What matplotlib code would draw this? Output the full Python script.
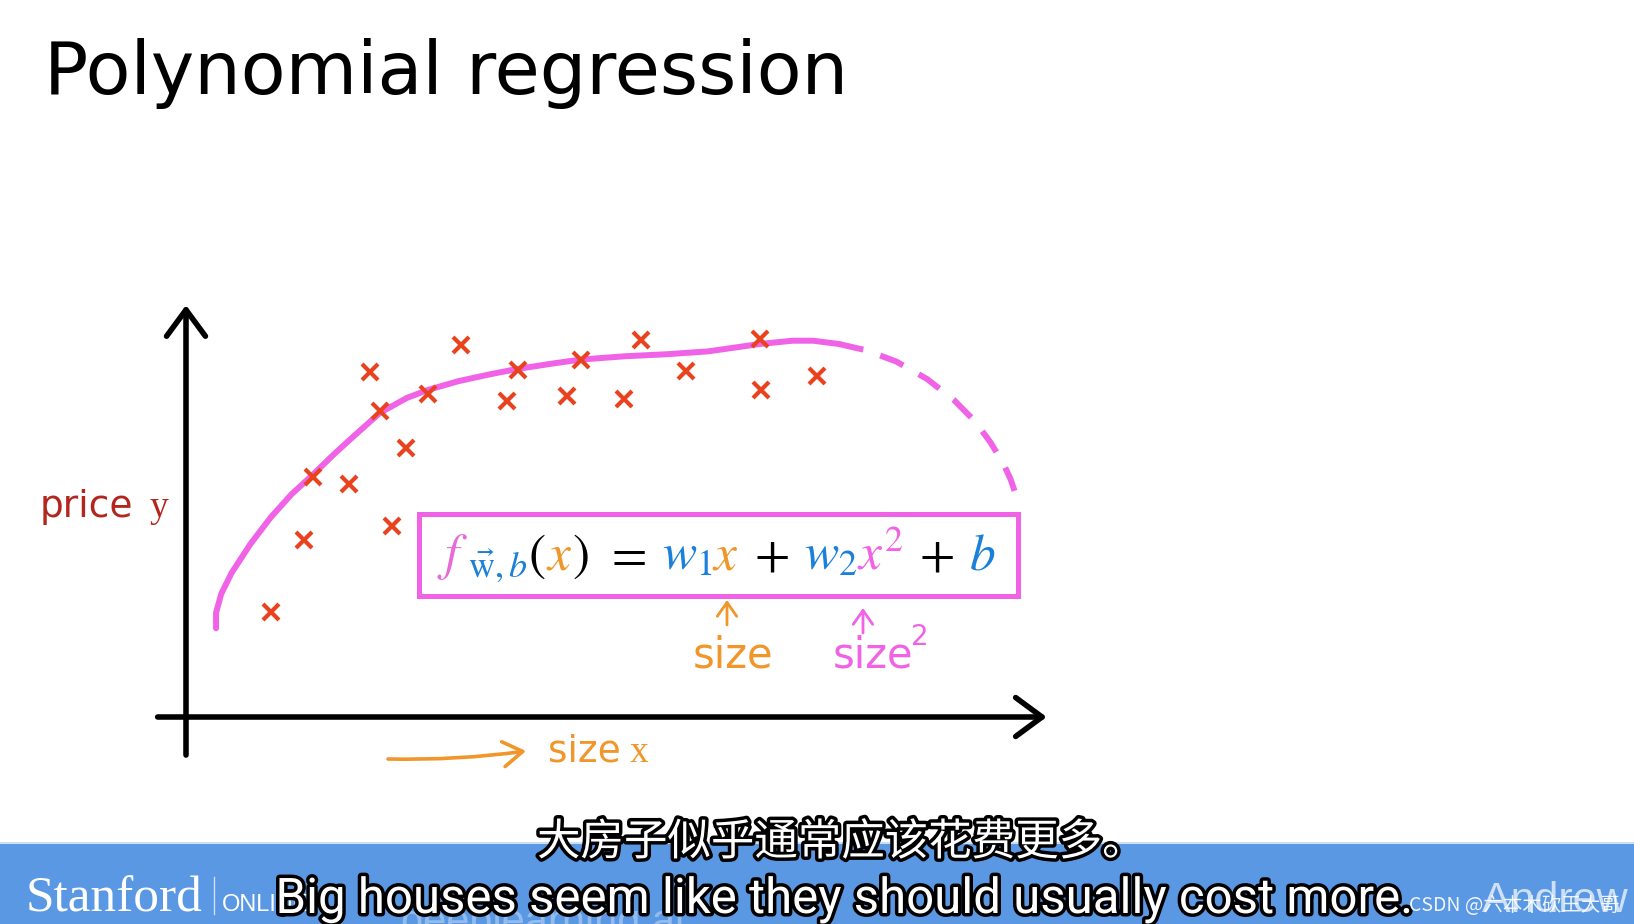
import matplotlib
matplotlib.use("Agg")
import matplotlib.pyplot as plt
from matplotlib.patches import Rectangle
from matplotlib.offsetbox import TextArea, HPacker, AnnotationBbox, DrawingArea
import matplotlib.patheffects as pe
from matplotlib import font_manager

plt.rcParams['mathtext.fontset'] = 'stix'

# ---------------- data ----------------
title_text = "Polynomial regression"

size_x = [9.9, 13.7, 14.8, 19.0, 21.4, 22.6, 25.6, 24.0, 28.2, 32.0,
          37.4, 38.6, 44.4, 46.0, 51.0, 53.0, 58.2, 66.8, 66.9, 73.5]
price_y = [25.7, 43.3, 58.7, 57.0, 84.4, 74.8, 65.8, 46.7, 79.0, 91.0,
           77.3, 84.8, 78.5, 87.3, 77.8, 92.2, 84.6, 92.4, 80.0, 83.4]

fit_x = [3.5, 3.5, 4.1, 5.3, 7.5, 9.9, 12.3, 14.7, 17.2, 19.6, 22.6, 25.7,
         28.2, 31.7, 35.4, 38.6, 42.6, 46.0, 51.1, 56.0, 60.8, 66.8, 70.6,
         73.0, 76.0]
fit_y = [21.7, 25.5, 30.1, 35.2, 42.3, 48.9, 54.5, 59.1, 64.2, 68.8, 74.4,
         78.0, 80.0, 82.1, 83.8, 85.1, 86.4, 87.4, 88.2, 88.7, 89.4, 91.2,
         92.0, 92.0, 91.2]
extrap_x = [76.0, 79.1, 82.7, 86.3, 89.4, 91.8, 93.6, 95.1, 96.0, 96.5]
extrap_y = [91.2, 89.7, 86.9, 82.6, 77.5, 72.4, 67.3, 62.2, 58.1, 55.0]

ylabel_word, ylabel_var = "price", "y"
xlabel_word, xlabel_var = "size", "x"
note1, note2 = "size", "size"
subtitle_en = "Big houses seem like they should usually cost more."
subtitle_zh = "大房子似乎通常应该花费更多。"
watermark = "CSDN @六本木砍王大哥"

# ---------------- colours ----------------
RED = '#e8421e'
MAG = '#f062e6'
PINK = '#e66ad8'
BLUE = '#1a80d8'
ORANGE = '#f0962a'
DARKRED = '#b3261e'
BANNER = '#5a98e4'

fig = plt.figure(figsize=(16.34, 9.24), dpi=100)
fig.patch.set_facecolor('white')

bg = fig.add_axes([0, 0, 1, 1])
bg.set_xlim(0, 1634)
bg.set_ylim(924, 0)
bg.axis('off')

ax = fig.add_axes([186 / 1634, 207 / 924, 859 / 1634, 409 / 924])
ax.set_xlim(0, 100)
ax.set_ylim(0, 100)
ax.axis('off')

# axes arrows
arrow_style = '->,head_length=0.95,head_width=0.7'
ax.annotate('', xy=(100.2, 0), xytext=(-3.3, 0),
            arrowprops=dict(arrowstyle=arrow_style, lw=4, color='black',
                            shrinkA=0, shrinkB=0, mutation_scale=20),
            annotation_clip=False)
ax.annotate('', xy=(0, 100.7), xytext=(0, -9.3),
            arrowprops=dict(arrowstyle=arrow_style, lw=4, color='black',
                            shrinkA=0, shrinkB=0, mutation_scale=20),
            annotation_clip=False)

# fitted curve
ax.plot(fit_x, fit_y, color=MAG, lw=4.3, solid_capstyle='round',
        solid_joinstyle='round', clip_on=False)
ax.plot(extrap_x, extrap_y, color=MAG, lw=4.3, linestyle=(0, (4.2, 3.0)),
        clip_on=False)

# data points
ax.plot(size_x, price_y, linestyle='none', marker='x', markersize=12,
        mew=3, color=RED, clip_on=False)

# title
bg.text(44, 94, title_text, fontsize=52.8, family='DejaVu Sans',
        ha='left', va='baseline', color='black')

# axis labels
bg.text(40, 517, ylabel_word, fontsize=27, family='DejaVu Sans',
        color=DARKRED, va='baseline')
bg.text(150, 517, ylabel_var, fontsize=27, family='Liberation Serif',
        color=DARKRED, va='baseline')
bg.text(548, 762, xlabel_word, fontsize=27, family='DejaVu Sans',
        color=ORANGE, va='baseline')
bg.text(630, 762, xlabel_var, fontsize=27, family='Liberation Serif',
        color=ORANGE, va='baseline')
bg.annotate('', xy=(526, 751), xytext=(388, 759),
            arrowprops=dict(arrowstyle='->,head_length=0.7,head_width=0.45',
                            lw=2.6, color=ORANGE, shrinkA=0, shrinkB=0,
                            mutation_scale=20,
                            connectionstyle='arc3,rad=0.04'))

# formula box
bg.add_patch(Rectangle((419, 514), 599, 82, facecolor='white',
                       edgecolor=MAG, lw=3.6))
fs = 37
SP = None
pieces = [
    (r"$f$", PINK),
    (r"${}_{\vec{\mathrm{w}},b}$", BLUE),
    (r"$($", 'black'),
    (r"$x$", ORANGE),
    (r"$)$", 'black'),
    SP,
    (r"$=$", 'black'),
    SP,
    (r"$w_1$", BLUE),
    (r"$x$", ORANGE),
    SP,
    (r"$+$", 'black'),
    SP,
    (r"$w_2$", BLUE),
    (r"$x^2$", MAG),
    SP,
    (r"$+$", 'black'),
    SP,
    (r"$b$", BLUE),
]
children = []
for p in pieces:
    if p is None:
        children.append(DrawingArea(11, 1))
    else:
        children.append(TextArea(p[0], textprops=dict(color=p[1], fontsize=fs)))
pack = HPacker(children=children, align='baseline', pad=0, sep=0)
ab = AnnotationBbox(pack, (716, 557), xycoords='data', frameon=False,
                    box_alignment=(0.5, 0.5))
bg.add_artist(ab)

# handwritten notes
bg.annotate('', xy=(727, 600), xytext=(727, 625),
            arrowprops=dict(arrowstyle='->,head_length=0.5,head_width=0.35',
                            lw=2, color=ORANGE, shrinkA=0, shrinkB=0,
                            mutation_scale=20))
bg.annotate('', xy=(863, 608), xytext=(863, 633),
            arrowprops=dict(arrowstyle='->,head_length=0.5,head_width=0.35',
                            lw=2, color=MAG, shrinkA=0, shrinkB=0,
                            mutation_scale=20))
bg.text(693, 667, note1, fontsize=30, color=ORANGE, va='baseline',
        family='DejaVu Sans')
bg.text(833, 668, note2, fontsize=30, color=MAG, va='baseline',
        family='DejaVu Sans')
bg.text(911, 645, '2', fontsize=20, color=MAG, va='baseline',
        family='DejaVu Sans')

# bottom banner
bg.add_patch(Rectangle((0, 843), 1634, 81, facecolor=BANNER,
                       edgecolor='none', zorder=1))
bg.plot([0, 1634], [843, 843], color='#cfdff3', lw=1.5, zorder=1.1)
bg.text(26, 911, 'Stanford', family='Liberation Serif', fontsize=37,
        color='white', va='baseline', zorder=2)
bg.plot([214, 214], [877, 914], color='white', lw=1, alpha=0.7, zorder=2)
bg.text(222, 911, 'ONLINE', family='Liberation Sans', fontsize=17,
        color='white', va='baseline', zorder=2)
bg.text(400, 934, 'deeplearning.ai', family='Liberation Sans', fontsize=30,
        color='white', alpha=0.35, va='baseline', zorder=2)
bg.text(1482, 912, 'Andrew Ng', family='Liberation Sans', fontsize=31,
        color='white', alpha=0.7, va='baseline', zorder=2)

names = {f.name for f in font_manager.fontManager.ttflist}
if 'Liberation Sans Narrow' in names:
    en_family, en_size = 'Liberation Sans Narrow', 40.3
else:
    en_family, en_size = 'Roboto', 35.4
outline = [pe.withStroke(linewidth=5, foreground='black')]
bg.text(843, 913, subtitle_en, ha='center', va='baseline', fontsize=en_size,
        family=en_family, color='white', path_effects=outline, zorder=5)
bg.text(537, 843, subtitle_zh, ha='left', va='center', fontsize=31.3,
        family=['Noto Sans CJK SC', 'DejaVu Sans'], color='white',
        path_effects=outline, zorder=5)
bg.text(1409, 911, watermark, ha='left', va='baseline', fontsize=14,
        family=['Noto Sans CJK SC', 'DejaVu Sans'], color='white',
        alpha=0.9, zorder=6)

fig.savefig('out.png', dpi=100, facecolor='white')
